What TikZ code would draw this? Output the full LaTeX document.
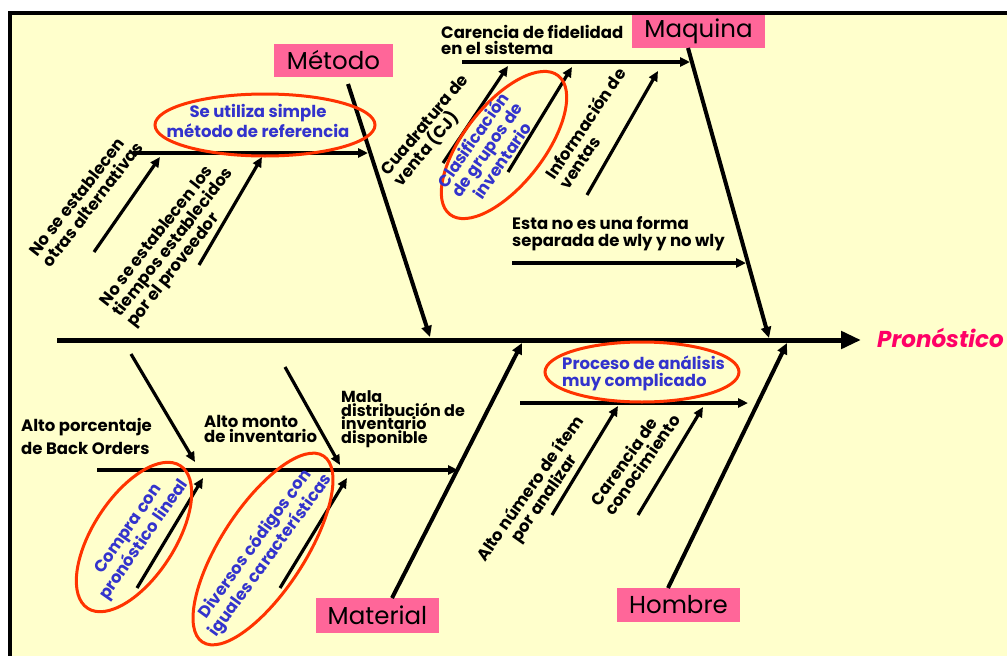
\documentclass[tikz,border=0pt]{standalone}
\usepackage{fontspec}
\setmainfont{Poppins}
\usetikzlibrary{arrows.meta,shapes.geometric}
\definecolor{paper}{HTML}{FFFFCC}
\definecolor{tagpink}{HTML}{FF6699}
\definecolor{ringred}{HTML}{FF3300}
\definecolor{noteblue}{HTML}{3333CC}
\definecolor{goalpink}{HTML}{FF0066}
\begin{document}
\begin{tikzpicture}[x=1pt,y=-1pt,
  tag/.style={fill=tagpink, inner sep=0pt, font=\fontsize{24.5}{26}\selectfont},
  cause/.style={inner sep=0pt, align=left, font=\bfseries\fontsize{16.5}{17}\selectfont},
  ccause/.style={cause, align=center},
  note/.style={cause, text=noteblue},
  cnote/.style={ccause, text=noteblue},
  ring/.style={draw=ringred, line width=3pt, ellipse, inner sep=0pt},
  spine/.style={line width=5pt, -{Triangle[length=20pt,width=17pt]}},
  bone/.style={line width=4pt, -{Triangle[length=11pt,width=10pt]}},
  twig/.style={line width=3.2pt, -{Triangle[length=10pt,width=9pt]}}]

% paper and frame
\useasboundingbox (0,0) rectangle (1007,656);
\fill[white] (0,0) rectangle (1007,656);
\fill[paper] (9,13) rectangle (1007,656);
\draw[line width=4pt] (9.5,656) -- (9.5,13) -- (1007,13);

% category tags and effect
\node[tag, minimum width=119pt, minimum height=33pt] (metodo)   at (333.5,60.5) {Método};
\node[tag, minimum width=133pt, minimum height=33pt] (maquina)  at (698.5,31.5) {Maquina};
\node[tag, minimum width=123pt, minimum height=35pt] (material) at (377.5,615.5) {Material};
\node[tag, minimum width=123pt, minimum height=34pt] (hombre)   at (678.5,605) {Hombre};
\node[anchor=west, inner sep=0pt, text=goalpink, font=\bfseries\itshape\fontsize{23}{24}\selectfont] (pron) at (877,338) {Pronóstico};

% spine
\coordinate (s0) at (57,340);
\coordinate (s1) at (861,340);
\draw[spine] (s0) -- (s1);

% main bones
\coordinate (mA) at (348,84);   \coordinate (mB) at (430,337);
\coordinate (qA) at (688,48);   \coordinate (qB) at (769,338);
\coordinate (tA) at (392,598);  \coordinate (tB) at (522,343);
\coordinate (hA) at (668,588);  \coordinate (hB) at (787,343);
\draw[bone] (mA) -- (mB);
\draw[bone] (qA) -- (qB);
\draw[bone] (tA) -- (tB);
\draw[bone] (hA) -- (hB);

% Método branch
\coordinate (mh0) at (133,153); \coordinate (mh1) at (368,153);
\coordinate (m10) at (94,252);  \coordinate (m11) at (160,157);
\coordinate (m20) at (199,265); \coordinate (m21) at (262,157);
\draw[twig] (mh0) -- (mh1);
\draw[twig] (m10) -- (m11);
\draw[twig] (m20) -- (m21);
\node[cause, rotate=52] (mt1) at (86,199) {No se establecen\\otras alternativas};
\node[cause, rotate=52] (mt2) at (174,243) {No se establecen los\\tiempos establecidos\\por el proveedor};
\node[ring, minimum width=220pt, minimum height=62pt] (mring) at (265,125) {};
\node[cnote, font=\bfseries\fontsize{16.5}{14}\selectfont] (mnote) at (258,121) {Se utiliza simple\\método de referencia};

% Maquina branch
\coordinate (qh0) at (462,62);  \coordinate (qh1) at (690,62);
\coordinate (q10) at (443,163); \coordinate (q11) at (508,66);
\coordinate (q20) at (508,172); \coordinate (q21) at (572,67);
\coordinate (q30) at (587,195); \coordinate (q31) at (658,71);
\coordinate (qk0) at (512,263); \coordinate (qk1) at (746,263);
\draw[twig] (qh0) -- (qh1);
\draw[twig] (q10) -- (q11);
\draw[twig] (q20) -- (q21);
\draw[twig] (q30) -- (q31);
\draw[twig] (qk0) -- (qk1);
\node[cause, anchor=west, font=\bfseries\fontsize{16.5}{16}\selectfont] (qt0) at (441,40) {Carencia de fidelidad\\en el sistema};
\node[cause, rotate=50] (qt1) at (432,131) {Cuadratura de\\venta (CJ)};
\node[ring, minimum width=176pt, minimum height=80pt, rotate=52] (qring) at (504,145) {};
\node[cnote, rotate=55] (qnote) at (487,150) {Clasificación\\de grupos de\\inventario};
\node[cause, rotate=56] (qt2) at (592,128) {Información de\\ventas};
\node[cause, anchor=west] (qt3) at (512,234) {Esta no es una forma\\separada de wly y no wly};

% Material branch
\coordinate (th0) at (97,470);  \coordinate (th1) at (458,470);
\coordinate (t10) at (131,354); \coordinate (t11) at (195,462);
\coordinate (t20) at (285,367); \coordinate (t21) at (340,465);
\coordinate (t30) at (137,588); \coordinate (t31) at (203,478);
\coordinate (t40) at (280,588); \coordinate (t41) at (347,478);
\draw[twig] (th0) -- (th1);
\draw[twig] (t10) -- (t11);
\draw[twig] (t20) -- (t21);
\draw[twig] (t30) -- (t31);
\draw[twig] (t40) -- (t41);
\node[cause, anchor=west, font=\bfseries\fontsize{16.5}{23}\selectfont] (tt1) at (21,436) {Alto porcentaje\\de Back Orders};
\node[cause, anchor=west, font=\bfseries\fontsize{16.5}{15}\selectfont] (tt2) at (204,429) {Alto monto\\de inventario};
\node[cause, anchor=west, font=\bfseries\fontsize{16}{13.5}\selectfont] (tt3) at (341,419) {Mala\\distribución de\\inventario\\disponible};
\node[ring, minimum width=170pt, minimum height=82pt, rotate=57] (tring1) at (134,537) {};
\node[cnote, rotate=55] (tnote1) at (137,535) {Compra con\\pronóstico lineal};
\node[ring, minimum width=222pt, minimum height=84pt, rotate=57] (tring2) at (263,549) {};
\node[cnote, rotate=54] (tnote2) at (263,550) {Diversos códigos con\\iguales características};

% Hombre branch
\coordinate (hh0) at (520,403); \coordinate (hh1) at (748,403);
\coordinate (h10) at (552,515); \coordinate (h11) at (618,406);
\coordinate (h20) at (638,515); \coordinate (h21) at (703,407);
\draw[twig] (hh0) -- (hh1);
\draw[twig] (h10) -- (h11);
\draw[twig] (h20) -- (h21);
\node[ring, minimum width=194pt, minimum height=60pt] (hring) at (642,372) {};
\node[note, anchor=west] (hnote) at (562,373) {Proceso de análisis\\muy complicado};
\node[ccause, rotate=55] (ht1) at (538,494) {Alto número de ítem\\por analizar};
\node[cause, rotate=55] (ht2) at (635,460) {Carencia de\\conocimiento};

\end{tikzpicture}
\end{document}
